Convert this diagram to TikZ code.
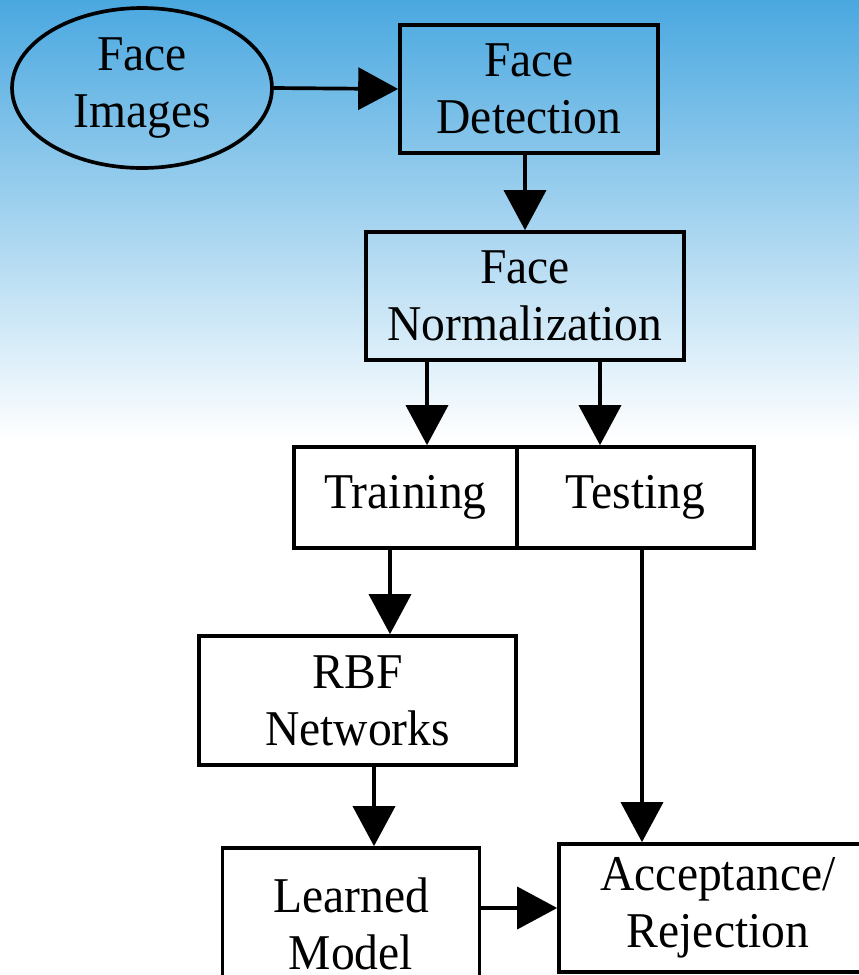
\documentclass[tikz,border=0pt]{standalone}
\usepackage{fontspec}
\setmainfont{Liberation Serif}[FakeStretch=0.95]
\usetikzlibrary{shapes.geometric,arrows.meta,calc}

\definecolor{skyblue}{RGB}{74,168,224}

\tikzset{
  blk/.style={rectangle, draw, line width=2.1pt, align=center, inner sep=0pt,
    font=\fontsize{28.5}{32.5}\selectfont},
  arr/.style={draw, line width=2.1pt, -{Triangle[length=0.8cm,width=0.84cm]}}
}

\begin{document}
\begin{tikzpicture}[x=0.02cm,y=-0.02cm]

        \useasboundingbox (0,0) rectangle (859,975);
        \clip (0,0) rectangle (859,975);
        \shade[top color=skyblue, bottom color=white] (0,0) rectangle (859,440);

        \begin{scope}[every node/.style={blk}]
          \node[ellipse, minimum width=5.2cm, minimum height=3.2cm] (img) at (142,88) {Face\\Images};
          \node[minimum width=5.16cm, minimum height=2.56cm] (det)   at (529,89)      {Face\\Detection};
          \node[minimum width=6.36cm, minimum height=2.56cm] (norm)  at (525,296)     {Face\\Normalization};
          \node[minimum width=4.46cm, minimum height=2.02cm] (train) at (405.5,497.5) {Training};
          \node[minimum width=4.74cm, minimum height=2.02cm] (test)  at (635.5,497.5) {Testing};
          \node[minimum width=6.34cm, minimum height=2.58cm] (rbf)   at (357.5,700.5) {RBF\\Networks};
          \node[minimum width=5.14cm, minimum height=3.04cm] (lrn)   at (351,924)     {Learned\\Model};
          \node[minimum width=6.36cm, minimum height=2.56cm] (acc)   at (718,908)     {Acceptance/\\Rejection};
        \end{scope}

        \begin{scope}[every edge/.style={arr}]
          \path (img.east) edge (det.west);
          \path (det.south -| norm.north) edge (norm.north);
          \path ($(norm.south)+(-98,0)$) edge ($(train.north)+(21.5,0)$);
          \path ($(norm.south)+(75,0)$) edge ($(test.north)+(-35.5,0)$);
          \path ($(train.south)+(-15.5,0)$) edge ($(rbf.north)+(32.5,0)$);
          \path ($(rbf.south)+(16.5,0)$) edge ($(lrn.north)+(23,0)$);
          \path ($(test.south)+(6.5,0)$) edge ($(acc.north)+(-76,0)$);
          \path (lrn.east |- acc.west) edge (acc.west);
        \end{scope}

      \end{tikzpicture}
\end{document}
